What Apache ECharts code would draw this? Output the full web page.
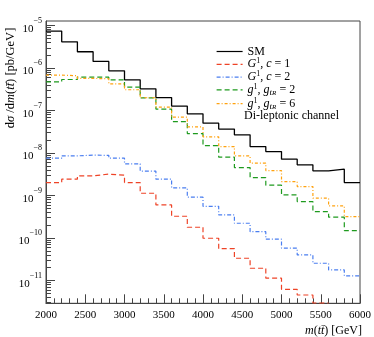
<!DOCTYPE html>
<html><head><meta charset="utf-8">
<script src="https://cdn.jsdelivr.net/npm/echarts@6/dist/echarts.min.js"></script>
<style>html,body{margin:0;padding:0;background:#fff}#c{width:374px;height:337px}</style>
</head><body><div id="c"></div>
<script>
// ---- data ----
const binEdges = [2000,2200,2400,2600,2800,3000,3200,3400,3600,3800,4000,4200,4400,4600,4800,5000,5200,5400,5600,5800,6000];
const smValues = [7.4e-6,4.15e-6,2.42e-6,1.43e-6,8.6e-7,5.28e-7,3.24e-7,2.02e-7,1.27e-7,8.35e-8,5.05e-8,3.65e-8,2.68e-8,1.42e-8,1.08e-8,7.16e-9,5.26e-9,3.8e-9,4.17e-9,2.01e-9];
const g1c1Values = [2.01e-9,2.42e-9,2.9e-9,3.18e-9,3.0e-9,2.01e-9,1.13e-9,6.0e-10,3.25e-10,1.79e-10,9.86e-11,5.61e-11,3.33e-11,1.94e-11,1.13e-11,6.2e-12,4.55e-12,2.95e-12,null,null];
const g1c2Values = [7.57e-9,8.57e-9,8.9e-9,8.8e-9,7.57e-9,5.55e-9,3.73e-9,2.42e-9,1.51e-9,9.12e-10,5.55e-10,3.49e-10,2.22e-10,1.41e-10,9.35e-11,5.74e-11,3.99e-11,2.54e-11,1.77e-11,1.28e-11];
const g1gtR2Values = [4.74e-7,5.37e-7,6.12e-7,6.1e-7,5.28e-7,3.55e-7,1.99e-7,1.08e-7,5.5e-8,2.87e-8,1.5e-8,7.98e-9,4.54e-9,2.64e-9,1.75e-9,1.03e-9,7.2e-10,4.18e-10,3.08e-10,1.49e-10];
const g1gtR6Values = [6.8e-7,6.6e-7,5.7e-7,5.6e-7,4.26e-7,3.08e-7,2.0e-7,1.2e-7,7.0e-8,4.1e-8,2.4e-8,1.42e-8,8.57e-9,5.77e-9,3.86e-9,2.12e-9,1.62e-9,8.63e-10,5.69e-10,3.18e-10];
const xTickLabels = [2000,2500,3000,3500,4000,4500,5000,5500,6000];
const yTickExponents = [-11,-10,-9,-8,-7,-6,-5];
const yMin = 2.9e-12, yMax = 1.28e-5;

const FONT = 'Liberation Serif';
function stepData(vals){
  const d = [];
  let last = -1;
  vals.forEach((v,i)=>{ if(v!==null){ d.push([binEdges[i], v]); last = i; } });
  d.push([binEdges[last+1], vals[last]]);
  return d;
}
const yMajor = yTickExponents.map(e => Math.pow(10, e));
const yMinor = [];
for (let e = -12; e <= -5; e++) for (let k = 2; k <= 9; k++) { const v = k*Math.pow(10,e); if (v>yMin && v<yMax) yMinor.push(v); }

const legendRich = {
  n:{fontFamily:FONT,fontSize:12,lineHeight:14,color:'#000'},
  i:{fontFamily:FONT,fontSize:12,lineHeight:14,fontStyle:'italic',color:'#000'},
  sup:{fontFamily:FONT,fontSize:8,lineHeight:8,verticalAlign:'top',color:'#000'},
  sub:{fontFamily:FONT,fontSize:9,lineHeight:9,verticalAlign:'bottom',fontStyle:'italic',color:'#000'},
  subsub:{fontFamily:FONT,fontSize:7,lineHeight:5,verticalAlign:'bottom',fontStyle:'italic',color:'#000'}
};
const legendLabels = {
  'SM':'{n|SM}',
  'G1c1':'{i|G}{sup|1}{n|, }{i|c}{n| = 1}',
  'G1c2':'{i|G}{sup|1}{n|, }{i|c}{n| = 2}',
  'g1g2':'{i|g}{sup|1}{n|, }{i|g}{sub|t}{subsub|R}{n| = 2}',
  'g1g6':'{i|g}{sup|1}{n|, }{i|g}{sub|t}{subsub|R}{n| = 6}'
};

const chart = echarts.init(document.getElementById('c'), null, {renderer:'canvas'});
const mk = (name, vals, color, width, dash) => ({
  name, type:'line', step:'end', data: stepData(vals), symbol:'none', showSymbol:false,
  lineStyle:{color, width, type: dash}, itemStyle:{color}, animation:false, clip:true, z:2
});
chart.setOption({
  animation:false,
  backgroundColor:'#fff',
  grid:{left:46, right:11.5, top:21, bottom:33.7, show:true, borderColor:'#444', borderWidth:1},
  xAxis:{type:'value', min:2000, max:6000, interval:500,
    axisLine:{show:true, lineStyle:{color:'#444', width:1}},
    axisTick:{show:true, inside:true, length:9, lineStyle:{color:'#444'}},
    minorTick:{show:true, splitNumber:5, length:5, lineStyle:{color:'#444'}},
    splitLine:{show:false}, minorSplitLine:{show:false},
    axisLabel:{margin:6, fontFamily:FONT, fontSize:11, color:'#000',
      customValues: xTickLabels, formatter: v => String(v)}
  },
  yAxis:[
    {type:'log', min:yMin, max:yMax, logBase:10,
      axisLine:{show:true, onZero:false, lineStyle:{color:'#444', width:1}},
      axisTick:{show:true, inside:true, length:9, customValues:yMajor, lineStyle:{color:'#444'}},
      splitLine:{show:false},
      axisLabel:{show:true, margin:4, customValues:yMajor,
        formatter: v => '{b|10}{s|\u2212' + (-Math.round(Math.log10(v))) + '}',
        rich:{
          b:{fontFamily:FONT, fontSize:11, lineHeight:18, verticalAlign:'bottom', color:'#000'},
          s:{fontFamily:FONT, fontSize:8, lineHeight:8, verticalAlign:'top', color:'#000'}
        }}
    },
    {type:'log', min:yMin, max:yMax, logBase:10, position:'left', offset:0,
      axisLine:{show:false},
      axisTick:{show:true, inside:true, length:5, customValues:yMinor, lineStyle:{color:'#444'}},
      axisLabel:{show:false}, splitLine:{show:false}
    }
  ],
  legend:{orient:'vertical', left:211, top:40.5, itemWidth:26, itemHeight:14, itemGap:-0.2,
    selectedMode:false, data:['SM','G1c1','G1c2','g1g2','g1g6'],
    itemStyle:{opacity:0, borderWidth:0},
    lineStyle:{width:1.2},
    textStyle:{fontFamily:FONT, fontSize:12, color:'#000', rich:legendRich},
    formatter: n => legendLabels[n]
  },
  series:[
    mk('SM', smValues, '#000000', 1.3, 'solid'),
    mk('G1c1', g1c1Values, '#ee4327', 1.2, [5,3]),
    mk('G1c2', g1c2Values, '#4a7ef0', 1.2, [4,2,1,2]),
    mk('g1g2', g1gtR2Values, '#1e9a1e', 1.2, [5,3]),
    mk('g1g6', g1gtR6Values, '#ffa20f', 1.2, [3,2,1,2])
  ],
  graphic:[
    {type:'text', left:244, top:110, style:{text:'Di-leptonic channel', fontFamily:FONT, fontSize:12, fill:'#000'}},
    {type:'text', x:11, y:78, rotation:Math.PI/2,
      style:{text:'{n|d}{i|σ}{n| /d}{i|m}{n|(}{i|tt\u0304}{n|) [pb/GeV]}', align:'center', verticalAlign:'middle',
        rich:{n:{fontFamily:FONT,fontSize:12.5,fill:'#000'}, i:{fontFamily:FONT,fontSize:12.5,fontStyle:'italic',fill:'#000'}}}},
    {type:'text', x:362, y:331,
      style:{text:'{i|m}{n|(}{i|tt\u0304}{n|) [GeV]}', align:'right', verticalAlign:'middle',
        rich:{n:{fontFamily:FONT,fontSize:12,fill:'#000'}, i:{fontFamily:FONT,fontSize:12,fontStyle:'italic',fill:'#000'}}}}
  ]
});
</script></body></html>
